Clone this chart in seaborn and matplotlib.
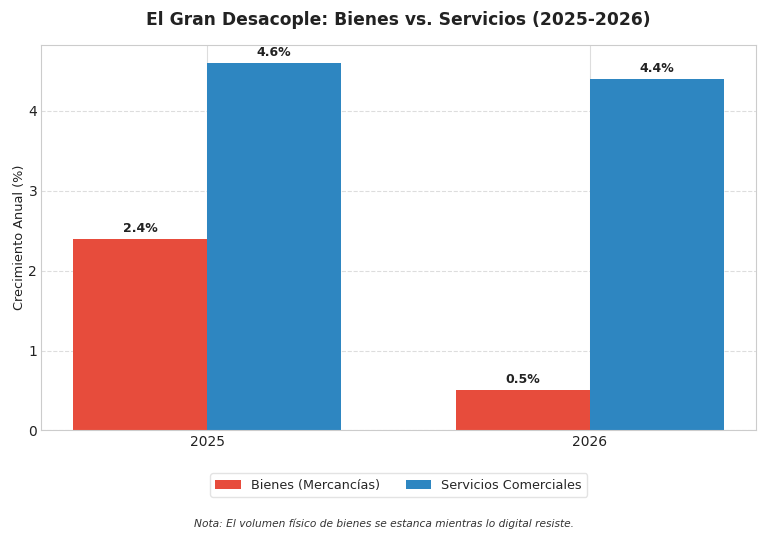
import pandas as pd
import matplotlib.pyplot as plt
import seaborn as sns

# ---------- DATA ----------
years = ["2025", "2026"]
bienes = [2.4, 0.5]
servicios = [4.6, 4.4]
series_names = ["Bienes (Mercancías)", "Servicios Comerciales"]
colors = ["#e74c3c", "#2e86c1"]

df = pd.DataFrame({
    "Año": years * 2,
    "Serie": [series_names[0]] * 2 + [series_names[1]] * 2,
    "Valor": bienes + servicios,
})

# ---------- PLOT ----------
sns.set_style("whitegrid")
plt.rcParams["font.family"] = ["DejaVu Sans"]
fig, ax = plt.subplots(figsize=(7.68, 5.38), dpi=100)

sns.barplot(data=df, x="Año", y="Valor", hue="Serie", palette=colors,
            width=0.7, saturation=1, linewidth=0, ax=ax)

for cont in ax.containers:
    ax.bar_label(cont, labels=[f"{v:.1f}%" for v in cont.datavalues],
                 padding=3, fontsize=9, fontweight="bold", color="#222222")

ax.set_xlim(-0.435, 1.435)
ax.xaxis.grid(True, color="#dddddd", linewidth=0.8)
ax.yaxis.grid(True, linestyle="--", color="#dddddd", linewidth=0.8)
ax.set_axisbelow(True)
for s in ax.spines.values():
    s.set_color("#cccccc")

ax.set_title("El Gran Desacople: Bienes vs. Servicios (2025-2026)",
             fontsize=12.3, fontweight="bold", color="#222222", pad=14.5)
ax.set_xlabel("")
ax.set_ylabel("Crecimiento Anual (%)", fontsize=9.3, color="#222222", labelpad=2)
ax.tick_params(labelsize=10, colors="#222222", length=0)
ax.tick_params(axis="y", pad=2.5)

ax.legend(loc="upper center", bbox_to_anchor=(0.5, -0.095), ncol=2,
          fontsize=9.2, frameon=True, edgecolor="#dddddd")

fig.text(0.5, 0.02, "Nota: El volumen físico de bienes se estanca mientras lo digital resiste.",
         ha="center", fontsize=7.7, style="italic", color="#333333")

plt.subplots_adjust(left=0.053, right=0.985, top=0.917, bottom=0.2)
plt.savefig("out.png", dpi=100)
